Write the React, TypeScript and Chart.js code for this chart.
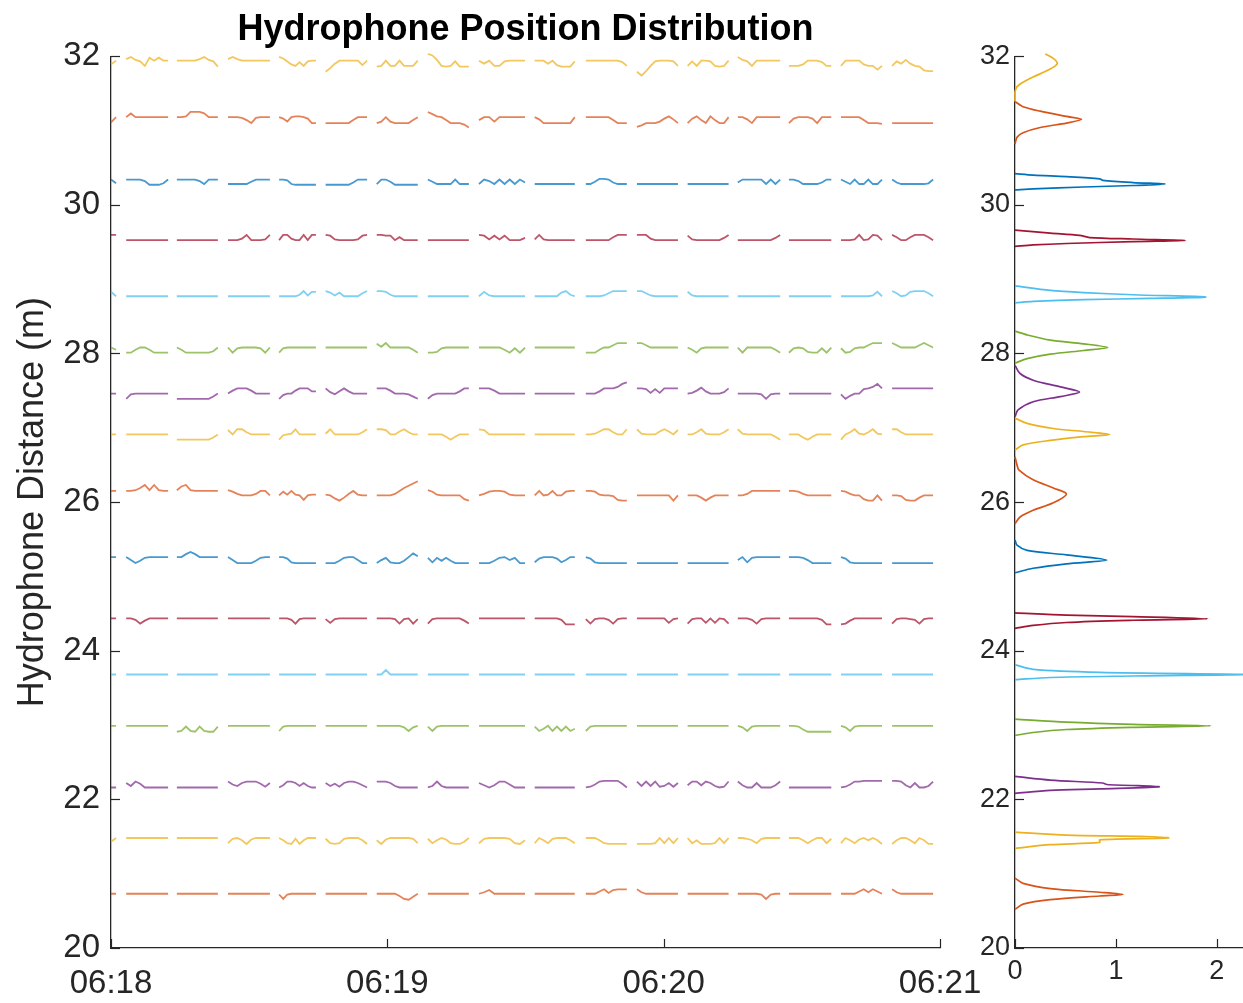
import { useEffect, useRef } from "react";
import { Chart, registerables } from "chart.js";

Chart.register(...registerables);

const FONT = '"Liberation Sans", Arial, Helvetica, sans-serif';
const AXIS_COLOR = "#262626";

// Acquisition windows, seconds after 06:18:00
const segmentStarts = [0, 3.3, 14.3, 25.4, 36.5, 46.6, 57.7, 68.8, 79.9, 92.0, 103.1, 114.2, 125.2, 136.1, 147.2, 158.5, 169.6];
const segmentEnds = [1.1, 12.4, 23.2, 34.5, 44.5, 55.6, 66.6, 77.7, 89.9, 100.7, 112.0, 123.1, 134.1, 145.3, 156.4, 167.4, 178.5];

// Nominal distance of each hydrophone (m), top of the array first
const hydrophoneBase = [31.94, 31.18, 30.34, 29.525, 28.77, 28.08, 27.46, 26.91, 26.15, 25.26, 24.435, 23.68, 22.99, 22.16, 21.48, 20.73];

const hydrophoneColors = ["#EDB120", "#D95319", "#0072BD", "#A2142F", "#4DBEEE", "#77AC30", "#7E2F8E", "#EDB120", "#D95319", "#0072BD", "#A2142F", "#4DBEEE", "#77AC30", "#7E2F8E", "#EDB120", "#D95319"];

const flat = [0, 0, 0, 0, 0, 0, 0, 0, 0, 0];

// Per-window deviations from the nominal distance (cm), one sample per second
const h01 = [[-5, 0], [2, 5, 1, -1, -7, 4, 0, 4, 0, 0], [0, 0, 0, 0, 0, 2, 5, 1, -1, -8], [2, 5, 2, 0, 0, 0, 0, 0, 0, 0], [5, 3, -1, -5, -7, -2, -7, -1, 0, 0], [-15, -10, -4, 0, 0, 0, 0, 0, -6, 0], [-8, -7, 0, -7, -7, 0, -7, -7, -7, 0], [9, 7, 1, -7, -8, -7, -1, -8, -8, -8], [0, -4, 0, -7, -7, -1, 0, 0, 0, 0], [0, 0, 0, -4, 0, -6, -8, -8, -8, -1], [0, 0, 0, 0, 0, 0, 0, 0, -2, -7], [-15, -20, -14, -7, -1, 0, 0, 0, -1, -7], [-7, -1, -7, 0, 0, -1, -7, -8, -7, 0], [5, 1, -1, -7, 0, 0, 0, 0, 0, 0], [-7, -7, -7, -5, 0, 0, 0, -2, -7, -7], [-7, 0, 0, 0, 0, -5, -7, -7, -12, -7], [-7, -1, -4, 1, -4, -7, -8, -13, -14, -14]];
const h02 = [[-7, 0], [0, 5, 0, 0, 0, 0, 0, 0, 0, 0], [0, 0, 1, 7, 7, 7, 5, 0, 0, 0], [0, 0, 0, -1, -4, -8, -1, 0, 0, 0], [0, -2, -6, 0, 1, 1, 0, -2, -8, -8], [-8, -8, -8, -8, -8, -8, -4, 0, 0, 0], [-8, -6, 0, -6, -8, -8, -8, -8, -4, 0], [7, 4, 1, 0, -4, -8, -8, -8, -10, -14], [-4, 0, 0, -6, 0, 0, 0, 0, 0, 0], [0, -3, -8, -8, -8, -8, -8, -8, -8, 0], [0, 0, 0, 0, 0, 0, -4, -8, -8, -8], [-13, -11, -8, -8, -8, -6, -2, 1, -3, -8], [-8, -2, 1, -4, -8, 1, -4, -8, -8, 0], [0, 0, -3, -8, 0, 0, 0, 0, 0, 0], [-8, -2, 0, 0, 0, -2, -8, 0, 0, 0], [0, 0, 0, 0, 0, -4, -8, -8, -8, -9], [-8, -8, -8, -8, -8, -8, -8, -8, -8, -8]];
const h03 = [[0, -5], [0, 0, 0, 0, -2, -7, -7, -7, -5, 0], [0, 0, 0, 0, 0, -2, -6, 0, 0, 0], [-6, -6, -6, -6, -6, -3, 0, 0, 0, 0], [0, 0, -1, -6, -7, -7, -7, -7, -7, -7], [-7, -7, -7, -7, -7, -7, -4, 0, 0, 0], [-6, 0, 0, -3, -7, -7, -7, -7, -7, -7], [0, -3, -6, -6, -6, -6, 0, -6, -6, -6], [-6, 0, -2, -6, 0, -6, 0, -6, 0, -4], [-6, -6, -6, -6, -6, -6, -6, -6, -6, -6], [-6, -6, -3, 1, 1, 0, -4, -6, -6, -6], [-6, -6, -6, -6, -6, -6, -6, -6, -6, -6], [-6, -6, -6, -6, -6, -6, -6, -6, -6, -6], [-4, 0, 0, 0, 0, 0, -6, 0, -6, 0], [0, 0, -2, -6, -6, -6, -6, -4, 0, 0], [0, -3, -6, 0, -6, -6, 0, -6, -6, 0], [0, -4, -6, -6, -6, -6, -6, -6, -5, 0]];
const h04 = [[7, 7], flat, flat, [0, 0, 0, 2, 7, 0, 0, 0, 1, 7], [0, 7, 7, 2, 0, 0, 7, 0, 7, 7], [7, 6, 1, 0, 0, 0, 0, 1, 6, 7], [7, 7, 6, 6, 0, 4, 0, 0, 0, 0], flat, [7, 6, 1, 6, 1, 6, 0, 0, 0, 3], [1, 7, 1, 0, 0, 0, 0, 0, 0, 0], [0, 0, 0, 0, 0, 0, 4, 7, 7, 7], [7, 7, 7, 2, 0, 0, 0, 0, 0, 0], [6, 1, 0, 0, 0, 0, 0, 0, 3, 7], [0, 0, 0, 0, 0, 0, 0, 0, 3, 7], flat, [0, 0, 0, 1, 7, 0, 1, 7, 6, 0], [7, 4, 0, 0, 4, 7, 7, 7, 4, 0]];
const h05 = [[6, 0], flat, flat, flat, [0, 0, 0, 0, 0, 2, 7, 1, 6, 6], [7, 5, 1, 5, 0, 0, 0, 0, 4, 7], [7, 7, 6, 2, 0, 0, 0, 0, 0, 0], flat, [0, 6, 1, 0, 0, 0, 0, 0, 0, 0], [0, 0, 0, 0, 0, 0, 5, 7, 2, 0], [0, 0, 0, 0, 1, 4, 7, 7, 7, 7], [7, 7, 4, 1, 0, 0, 0, 0, 0, 0], [6, 1, 0, 0, 0, 0, 0, 0, 0, 0], flat, flat, [0, 0, 0, 0, 0, 0, 0, 1, 6, 0], [7, 4, 0, 1, 6, 7, 7, 7, 4, 0]];
const h06 = [[0, -3], [-7, -7, -3, 0, 0, -3, -7, -7, -7, -7], [0, -3, -7, -7, -7, -7, -7, -7, -5, 0], [0, -7, -1, 0, 0, 0, 0, -1, -7, 0], [-7, -1, 0, 0, 0, 0, 0, 0, 0, 0], flat, [5, 1, 6, 0, 0, 0, 0, 0, -3, -7], [-7, -7, -6, -1, 0, 0, 0, 0, 0, 0], [0, 0, 0, 0, 0, -3, -7, -1, -7, 0], flat, [-7, -7, -7, -3, 0, 0, 3, 6, 6, 6], [6, 6, 3, 0, 0, 0, 0, 0, 0, 0], [0, -3, -7, -1, 0, 0, 0, 0, 0, 0], [0, -7, 0, 0, 0, 0, 0, 0, -3, -7], [-7, -1, 0, -1, -6, -7, -7, -1, -7, 0], [-1, -7, -6, -1, 0, 0, 3, 6, 6, 6], [6, 3, 0, 0, 0, 0, 3, 6, 3, 0]];
const h07 = [[0, 0], [-7, -1, 0, 0, 0, 0, 0, 0, 0, 0], [-7, -7, -7, -7, -7, -7, -7, -7, -4, 0], [0, 4, 7, 7, 7, 4, 0, 0, 0, 0], [-7, -2, 0, 0, 4, 7, 7, 7, 3, 3], [7, 2, -1, 3, 7, 3, 0, 0, 0, 0], [7, 7, 7, 4, 0, 0, 0, -1, -4, -7], [-7, -2, 0, 0, 0, 0, 0, 3, 7, 7], [7, 7, 7, 4, 0, 0, 0, 0, 0, 0], flat, [0, 0, 0, 3, 7, 7, 7, 9, 13, 15], [7, 7, 6, 1, 6, 1, 7, 7, 7, 7], [0, 1, 4, 8, 3, 0, 0, 0, 2, 7], [0, 0, 0, 0, 0, -1, -7, -1, 0, 0], flat, [-1, -7, -3, 0, 0, 6, 7, 9, 13, 7], [7, 7, 7, 7, 7, 7, 7, 7, 7, 7]];
const h08 = [[0, 0], flat, [-7, -7, -7, -7, -7, -7, -7, -7, -4, 0], [6, 0, 7, 7, 3, 0, 0, 0, 0, 0], [-7, -1, 0, 1, 7, 0, 0, 0, 0, 0], [1, 7, 0, 0, 0, 0, 0, 0, 3, 7], [7, 7, 6, 0, 0, 4, 7, 3, 0, 0], [0, 0, 0, 0, -3, -7, -3, 0, 0, 0], [7, 6, 0, 0, 0, 0, 0, 0, 0, 0], flat, [0, 0, 1, 4, 7, 7, 3, 0, 0, 7], [7, 1, 0, 0, 0, 4, 7, 4, 0, 6], [0, 0, 3, 7, 1, 0, 0, 0, 3, 7], [7, 1, 0, 0, 0, 0, 0, 0, -3, -7], [0, 0, 0, -4, -7, -3, 0, 0, 0, 0], [-7, 0, 3, 7, 1, 0, 3, 7, 1, 0], [7, 7, 3, 0, 0, 0, 0, 0, 0, 0]];
const h09 = [[0, 0], [0, 0, 1, 4, 8, 1, 8, 1, 0, 0], [1, 6, 8, 1, 0, 0, 0, 0, 0, 0], [1, -1, -4, -6, -6, -6, -4, 0, 0, -6], [-6, -1, -5, 0, -5, -6, -12, -6, -5, -5], [-5, -6, -10, -13, -9, -4, 0, -5, -6, -6], [-6, -6, -6, -6, -4, 0, 4, 7, 10, 13], [1, -1, -5, -6, -6, -6, -6, -6, -11, -13], [-6, -4, -1, 0, 0, -1, -5, -6, -6, -6], [-6, 0, -6, -5, 0, -6, -6, -1, 0, 0], [0, 0, -1, -5, -6, -6, -7, -12, -13, -13], [-6, -6, -6, -6, -6, -6, -6, -6, -13, -6], [-6, -6, -6, -9, -13, -9, -6, -6, -6, -6], [-6, -6, -4, 0, 0, 0, 0, 0, 0, 0], [0, 0, -1, -4, -6, -6, -6, -6, -6, -6], [0, -1, -4, -6, -6, -11, -13, -13, -6, -13], [-6, -6, -7, -12, -13, -13, -9, -6, -6, -6]];
const h10 = [[0, 0], [0, -4, -8, -5, -1, 0, 0, 0, 0, 0], [0, 0, 4, 7, 4, 0, 0, 0, 0, 0], [0, -4, -8, -8, -8, -8, -5, -1, 0, 0], [0, 0, -2, -7, -8, -8, -8, -8, -8, -8], [-8, -8, -8, -5, -1, 0, 0, -4, -8, -8], [-8, -4, -1, -7, -8, -8, -5, 0, 5, 1], [-1, -7, -1, -5, -1, -5, -8, -8, -8, -8], [-8, -8, -8, -5, -1, 0, -4, -1, -8, -8], [-7, -2, 0, 0, 0, -2, -7, -4, 0, 0], [0, -2, -7, -8, -8, -8, -8, -8, -8, -8], [-8, -8, -8, -8, -8, -8, -8, -8, -8, -8], [-8, -8, -8, -8, -8, -8, -8, -8, -8, -8], [-4, 0, -7, -1, 0, 0, 0, 0, 0, 0], [0, 0, 0, -1, -4, -8, -8, -8, -8, -8], [0, -2, -7, -8, -8, -8, -8, -8, -8, -8], [-8, -8, -8, -8, -8, -8, -8, -8, -8, -8]];
const h11 = [[0, 0], [0, 0, -2, -7, -3, 0, 0, 0, 0, 0], flat, flat, [0, 0, 0, -2, -7, -1, 0, 0, 0, 0], [-1, -6, -1, 0, 0, 0, 0, 0, 0, 0], [0, 0, 0, 0, -1, -7, -1, 0, -7, -1], [-7, -1, 0, 0, 0, 0, 0, 0, -3, -7], flat, [0, 0, 0, 0, 0, 0, -2, -8, -8, -8], [-1, -7, -1, 0, 0, -2, -7, -1, 0, 0], [0, 0, 0, 0, 0, 0, 0, -6, -1, 0], [-7, -1, 0, 0, -6, 0, -6, 0, -1, -7], [0, 0, 0, -2, -7, -1, 0, 0, 0, 0], [0, 0, 0, 0, 0, 0, 0, -2, -8, -8], [-8, -7, -3, 0, 0, 0, 0, 0, 0, 0], [-7, -1, 0, 0, -1, -2, -7, -1, 0, 0]];
const h12 = [[0, 0], flat, flat, flat, flat, flat, [0, 0, 6, 0, 0, 0, 0, 0, 0, 0], flat, flat, flat, flat, flat, flat, flat, flat, flat, flat];
const h13 = [[0, 0], flat, [-8, -7, -1, -7, -8, -1, -7, -8, -8, -1], flat, [-7, -1, 0, 0, 0, 0, 0, 0, 0, 0], flat, [0, 0, 0, 0, 0, 0, -2, -7, -2, 0], [-1, -7, -1, 0, 0, 0, 0, 0, 0, 0], flat, [-1, -7, -4, 0, -7, -1, -7, -1, -7, -4], [-7, -1, 0, 0, 0, 0, 0, 0, 0, 0], flat, flat, [0, -2, -7, -1, 0, 0, 0, 0, 0, 0], [0, 0, -1, -5, -8, -8, -8, -8, -8, -8], [0, -2, -7, -1, 0, 0, 0, 0, 0, 0], flat];
const h14 = [[0, 0], [6, 2, 8, 5, 0, 0, 0, 0, 0, 0], flat, [8, 4, 2, 6, 8, 8, 8, 5, 1, 6], [0, 3, 8, 8, 6, 2, 6, 2, 0, 0], [6, 2, 5, 1, 6, 8, 8, 6, 3, 0], [8, 8, 8, 6, 2, 0, 0, 0, 0, 0], [0, 2, 8, 2, 0, 0, 0, 0, 0, 0], [6, 3, 0, 3, 8, 8, 4, 0, 0, 0], flat, [0, 1, 4, 8, 9, 9, 9, 9, 5, 0], [8, 2, 8, 2, 8, 1, 2, 6, 1, 6], [3, 8, 8, 3, 8, 6, 2, 0, 1, 8], [8, 3, 0, 0, 6, 0, 0, 0, 3, 8], flat, [0, 1, 4, 8, 8, 9, 9, 9, 9, 9], [9, 9, 8, 3, 0, 6, 0, 0, 2, 8]];
const h15 = [[-5, 0], flat, flat, [-7, -1, 0, -3, -8, -2, 0, 0, 0, 0], [0, -3, -7, -8, -1, -8, -3, 0, 0, 0], [-1, -7, -8, -7, -1, 0, 0, 0, -3, -8], [-3, -8, -2, 0, 0, 0, 0, 0, -1, -7], [-1, -7, -3, 0, -2, -7, -8, -8, -5, 0], [-7, -1, 0, 0, 0, 0, -1, -7, -8, -3], [-7, 0, -3, -7, -1, 0, 0, 0, -3, -7], [0, 0, 0, -3, -7, -8, -8, -8, -8, -8], [-8, -8, -8, -8, -7, 0, -7, 0, -7, 0], [0, -7, -3, -8, -8, -8, -7, 0, -7, 0], [0, 0, -1, -3, -7, -1, 0, 0, 0, 0], [0, 0, 0, -3, -7, -3, 0, 0, -7, -1], [-7, 0, -3, -7, -2, 0, -3, 0, -3, -8], [-8, -3, 0, 0, -3, -7, 0, -3, -8, -8]];
const h16 = [[0, 0], flat, flat, flat, [-1, -7, -1, 0, 0, 0, 0, 0, 0, 0], flat, [0, 0, 0, 0, 0, -3, -7, -8, -4, 0], flat, [0, 2, 5, 0, 0, 0, 0, 0, 0, 0], flat, [0, 0, 0, 3, 6, 1, 5, 6, 6, 6], [6, 2, 0, 0, 0, 0, 0, 0, 0, 0], flat, [0, 0, 0, 0, 0, -1, -7, -1, 0, 0], flat, [0, 0, 0, 0, 3, 6, 2, 6, 3, 0], [6, 2, 0, 0, 0, 0, 0, 0, 0, 0]];

const hydrophoneOffsets = [h01, h02, h03, h04, h05, h06, h07, h08, h09, h10, h11, h12, h13, h14, h15, h16];

// Position density estimates: [density, distance (m)]
const kde01 = [[0.30, 32.03], [0.38, 31.97], [0.42, 31.91], [0.40, 31.87], [0.31, 31.80], [0.18, 31.72], [0.08, 31.65], [0.02, 31.59], [0.0, 31.52], [0.0, 31.39]];
const kde02 = [[0, 31.39], [0.08, 31.32], [0.25, 31.26], [0.51, 31.19], [0.66, 31.15], [0.51, 31.10], [0.25, 31.04], [0.08, 30.97], [0.02, 30.91], [0, 30.82]];
const kde03 = [[0, 30.42], [0.18, 30.40], [0.51, 30.38], [0.84, 30.35], [0.87, 30.33], [1.17, 30.30], [1.49, 30.28], [1.17, 30.26], [0.68, 30.24], [0.18, 30.215], [0, 30.20]];
const kde04 = [[0, 29.66], [0.35, 29.62], [0.64, 29.59], [0.74, 29.56], [1.17, 29.54], [1.69, 29.52], [1.17, 29.505], [0.51, 29.48], [0.18, 29.46], [0, 29.44]];
const kde05 = [[0, 28.91], [0.35, 28.85], [0.68, 28.82], [1.17, 28.79], [1.89, 28.76], [1.34, 28.74], [0.68, 28.725], [0.18, 28.70], [0, 28.68]];
const kde06 = [[0, 28.30], [0.12, 28.25], [0.35, 28.18], [0.68, 28.13], [0.92, 28.08], [0.68, 28.04], [0.35, 27.99], [0.12, 27.93], [0, 27.87]];
const kde07 = [[0, 27.84], [0.05, 27.73], [0.18, 27.64], [0.45, 27.55], [0.64, 27.48], [0.45, 27.42], [0.18, 27.35], [0.03, 27.24], [0, 27.15]];
const kde08 = [[0, 27.13], [0.12, 27.06], [0.38, 26.99], [0.68, 26.95], [0.94, 26.91], [0.68, 26.88], [0.35, 26.83], [0.08, 26.77], [0, 26.70]];
const kde09 = [[0, 26.61], [0.02, 26.50], [0.04, 26.43], [0.18, 26.30], [0.38, 26.19], [0.51, 26.11], [0.38, 25.99], [0.18, 25.89], [0.05, 25.80], [0, 25.71]];
const kde10 = [[0, 25.49], [0.02, 25.42], [0.12, 25.35], [0.51, 25.29], [0.91, 25.22], [0.51, 25.17], [0.18, 25.11], [0, 25.05]];
const kde11 = [[0, 24.51], [0.51, 24.48], [1.17, 24.46], [1.91, 24.43], [1.17, 24.41], [0.51, 24.38], [0.18, 24.34], [0, 24.30]];
const kde12 = [[0, 23.81], [0.18, 23.75], [0.84, 23.71], [2.28, 23.68], [1.17, 23.66], [0.35, 23.64], [0, 23.61]];
const kde13 = [[0, 23.08], [0.51, 23.04], [1.17, 23.01], [1.94, 22.99], [1.17, 22.97], [0.51, 22.94], [0.18, 22.90], [0, 22.86]];
const kde14 = [[0, 22.31], [0.35, 22.26], [0.87, 22.22], [0.91, 22.20], [1.43, 22.17], [0.84, 22.14], [0.35, 22.12], [0, 22.08]];
const kde15 = [[0, 21.56], [0.51, 21.52], [1.30, 21.50], [1.52, 21.48], [0.84, 21.456], [0.84, 21.42], [0.35, 21.39], [0, 21.34]];
const kde16 = [[0, 20.94], [0.08, 20.87], [0.35, 20.80], [0.84, 20.75], [1.07, 20.72], [0.84, 20.70], [0.35, 20.65], [0.08, 20.59], [0, 20.52]];

const hydrophoneKde = [kde01, kde02, kde03, kde04, kde05, kde06, kde07, kde08, kde09, kde10, kde11, kde12, kde13, kde14, kde15, kde16];

const timeTicks = [0, 60, 120, 180];
const timeTickLabels = ["06:18", "06:19", "06:20", "06:21"];

type Pt = { x: number; y: number | null };

function buildTrace(base: number, offsets: number[][]): Pt[] {
  const pts: Pt[] = [];
  offsets.forEach((seg, k) => {
    const t0 = segmentStarts[k];
    const t1 = segmentEnds[k];
    const dt = seg.length > 1 ? (t1 - t0) / (seg.length - 1) : 0;
    seg.forEach((cm, j) => pts.push({ x: t0 + j * dt, y: base + cm / 100 }));
    if (k < offsets.length - 1) pts.push({ x: (t1 + segmentStarts[k + 1]) / 2, y: null });
  });
  return pts;
}

function withAlpha(hex: string, a: number) {
  const n = parseInt(hex.slice(1), 16);
  return `rgba(${(n >> 16) & 255}, ${(n >> 8) & 255}, ${n & 255}, ${a})`;
}

// MATLAB-style tick marks pointing into the axes
const inwardTicks = {
  id: "inwardTicks",
  afterDatasetsDraw(chart: any) {
    const { ctx, chartArea, scales } = chart;
    const len = 9;
    ctx.save();
    ctx.strokeStyle = AXIS_COLOR;
    ctx.lineWidth = 1.2;
    const ys = scales.y;
    ys.ticks.forEach((t: any) => {
      const p = Math.round(ys.getPixelForValue(t.value)) + 0.5;
      ctx.beginPath();
      ctx.moveTo(chartArea.left, p);
      ctx.lineTo(chartArea.left + len, p);
      ctx.stroke();
    });
    const xs = scales.x;
    xs.ticks.forEach((t: any) => {
      const p = Math.round(xs.getPixelForValue(t.value)) + 0.5;
      ctx.beginPath();
      ctx.moveTo(p, chartArea.bottom);
      ctx.lineTo(p, chartArea.bottom - len);
      ctx.stroke();
    });
    ctx.restore();
  },
};

const noGrid = { display: false, drawTicks: false };

export default function App() {
  const leftRef = useRef<HTMLCanvasElement>(null);
  const rightRef = useRef<HTMLCanvasElement>(null);

  useEffect(() => {
    Chart.defaults.font.family = FONT;

    const traces = hydrophoneBase.map((b, i) => buildTrace(b, hydrophoneOffsets[i]));

    const left = new Chart(leftRef.current!, {
      type: "line",
      data: {
        datasets: traces.map((d, i) => ({
          data: d as any,
          borderColor: withAlpha(hydrophoneColors[i], 0.72),
          borderWidth: 1.8,
          pointRadius: 0,
          tension: 0,
          spanGaps: false,
          clip: 6,
        })),
      },
      options: {
        animation: false,
        responsive: false,
        events: [],
        layout: { padding: { left: 0, right: 60, top: 0, bottom: 0 } },
        plugins: {
          legend: { display: false },
          tooltip: { enabled: false },
          title: {
            display: true,
            text: "Hydrophone Position Distribution",
            fullSize: false,
            color: "#000",
            font: { size: 36, weight: "bold", family: FONT },
            padding: { top: 8, bottom: 5 },
          },
        },
        scales: {
          x: {
            type: "linear",
            min: 0,
            max: 180,
            grid: noGrid,
            border: { display: true, color: AXIS_COLOR, width: 1.3 },
            afterBuildTicks: (s: any) => {
              s.ticks = timeTicks.map((v) => ({ value: v }));
            },
            ticks: {
              color: AXIS_COLOR,
              font: { size: 33, family: FONT },
              padding: 16,
              maxRotation: 0,
              autoSkip: false,
              callback: (v: any) => timeTickLabels[timeTicks.indexOf(Number(v))] ?? "",
            },
            afterFit: (s: any) => {
              s.height = 55;
            },
          },
          y: {
            type: "linear",
            min: 20,
            max: 32,
            grid: noGrid,
            border: { display: true, color: AXIS_COLOR, width: 1.3 },
            ticks: {
              stepSize: 2,
              color: AXIS_COLOR,
              font: { size: 33, family: FONT },
              padding: 11,
            },
            title: {
              display: true,
              text: "Hydrophone Distance (m)",
              color: AXIS_COLOR,
              font: { size: 36, family: FONT },
              padding: { top: 11, bottom: 0 },
            },
            afterFit: (s: any) => {
              s.width = 111;
            },
          },
        },
      },
      plugins: [inwardTicks],
    });

    const right = new Chart(rightRef.current!, {
      type: "line",
      data: {
        datasets: hydrophoneKde.map((pts, i) => ({
          data: pts.map(([d, y]) => ({ x: d, y })) as any,
          borderColor: hydrophoneColors[i],
          borderWidth: 1.7,
          pointRadius: 0,
          tension: 0.3,
          clip: 6,
        })),
      },
      options: {
        animation: false,
        responsive: false,
        events: [],
        layout: { padding: { left: 0, right: 0, top: 56.2, bottom: 0 } },
        plugins: { legend: { display: false }, tooltip: { enabled: false } },
        scales: {
          x: {
            type: "linear",
            min: 0,
            max: 2.26,
            grid: noGrid,
            border: { display: true, color: AXIS_COLOR, width: 1.3 },
            ticks: {
              stepSize: 1,
              includeBounds: false,
              color: AXIS_COLOR,
              font: { size: 27, family: FONT },
              padding: 7,
              maxRotation: 0,
            },
            afterFit: (s: any) => {
              s.height = 55;
            },
          },
          y: {
            type: "linear",
            min: 20,
            max: 32,
            grid: noGrid,
            border: { display: true, color: AXIS_COLOR, width: 1.3 },
            ticks: {
              stepSize: 2,
              color: AXIS_COLOR,
              font: { size: 27, family: FONT },
              padding: 5,
            },
            afterFit: (s: any) => {
              s.width = 55;
            },
          },
        },
      },
      plugins: [inwardTicks],
    });

    return () => {
      left.destroy();
      right.destroy();
    };
  }, []);

  return (
    <div style={{ position: "fixed", left: 0, top: 0, width: 1243, height: 1003, background: "#fff", overflow: "hidden" }}>
      <canvas ref={leftRef} width={1000} height={1003} style={{ position: "absolute", left: 0, top: 0 }} />
      <canvas ref={rightRef} width={283} height={1003} style={{ position: "absolute", left: 960, top: 0 }} />
    </div>
  );
}
